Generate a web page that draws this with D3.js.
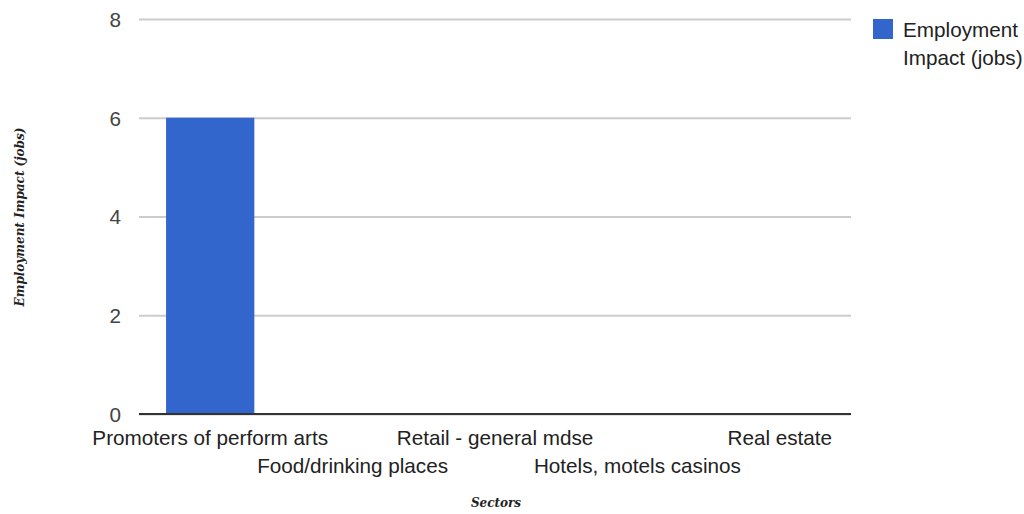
<!DOCTYPE html>
<html>
<head>
<meta charset="utf-8">
<script src="https://cdn.jsdelivr.net/npm/d3@7"></script>
<style>
  body { margin: 0; background: #fff; }
  svg text { font-family: "Liberation Sans", Arial, sans-serif; }
</style>
</head>
<body>
<div id="chart"></div>
<script>
// data
var sectors = ["Promoters of perform arts", "Food/drinking places", "Retail - general mdse", "Hotels, motels casinos", "Real estate"];
var jobs = [6, 0, 0, 0, 0];
var yTicks = [0, 2, 4, 6, 8];
var seriesName = ["Employment", "Impact (jobs)"];

var W = 1024, H = 514;
var margin = {top: 19, right: 173, bottom: 100, left: 139};
var width = W - margin.left - margin.right,
    height = H - margin.top - margin.bottom;
var fs = "20.7px";

var svg = d3.select("#chart").append("svg")
    .attr("width", W).attr("height", H);
var g = svg.append("g")
    .attr("transform", "translate(" + margin.left + "," + margin.top + ")");

var x = d3.scaleBand().domain(sectors).range([0, width]).paddingInner(0.38).paddingOuter(0.19);
var y = d3.scaleLinear().domain([0, 8]).range([height, 0]);

// gridlines
g.append("g")
  .call(d3.axisLeft(y).tickValues(yTicks).tickSize(-width).tickFormat(""))
  .call(function(s){ s.select(".domain").remove(); })
  .selectAll(".tick line").attr("stroke", "#cccccc").attr("stroke-width", 2);

// y tick labels
g.append("g")
  .call(d3.axisLeft(y).tickValues(yTicks).tickSize(0).tickPadding(18))
  .call(function(s){ s.select(".domain").remove(); })
  .selectAll("text")
  .style("font-size", fs).attr("fill", "#444").attr("dy", "0.35em");

// bars
g.selectAll(".bar").data(jobs).enter().append("rect")
  .attr("class", "bar")
  .attr("x", function(d, i){ return x(sectors[i]); })
  .attr("y", function(d){ return y(d); })
  .attr("width", x.bandwidth())
  .attr("height", function(d){ return height - y(d); })
  .attr("fill", "#3366cc");

// baseline
g.append("line")
  .attr("x1", 0).attr("x2", width)
  .attr("y1", y(0)).attr("y2", y(0))
  .attr("stroke", "#333").attr("stroke-width", 2);

// category labels, alternating rows
g.selectAll(".cat").data(sectors).enter().append("text")
  .attr("class", "cat")
  .attr("x", function(d){ return x(d) + x.bandwidth() / 2; })
  .attr("y", function(d, i){ return height + (i % 2 === 0 ? 31 : 59); })
  .attr("text-anchor", "middle")
  .style("font-size", fs)
  .attr("fill", "#222")
  .text(function(d){ return d; });

// axis titles
svg.append("text")
  .attr("transform", "translate(24," + (margin.top + 198) + ") rotate(-90)")
  .attr("text-anchor", "middle")
  .style("font-family", "'DejaVu Serif', serif")
  .style("font-style", "italic").style("font-weight", "bold")
  .style("font-size", "12px").attr("fill", "#222")
  .text("Employment Impact (jobs)");

svg.append("text")
  .attr("x", 496).attr("y", 507)
  .attr("text-anchor", "middle")
  .style("font-family", "'DejaVu Serif', serif")
  .style("font-style", "italic").style("font-weight", "bold")
  .style("font-size", "12px").attr("fill", "#222")
  .text("Sectors");

// legend
var legend = svg.append("g").attr("transform", "translate(873,19)");
legend.append("rect").attr("width", 20).attr("height", 20).attr("fill", "#3366cc");
legend.selectAll("text").data(seriesName).enter().append("text")
  .attr("x", 30)
  .attr("y", function(d, i){ return 18 + i * 28; })
  .style("font-size", fs).attr("fill", "#222")
  .text(function(d){ return d; });
</script>
</body>
</html>
